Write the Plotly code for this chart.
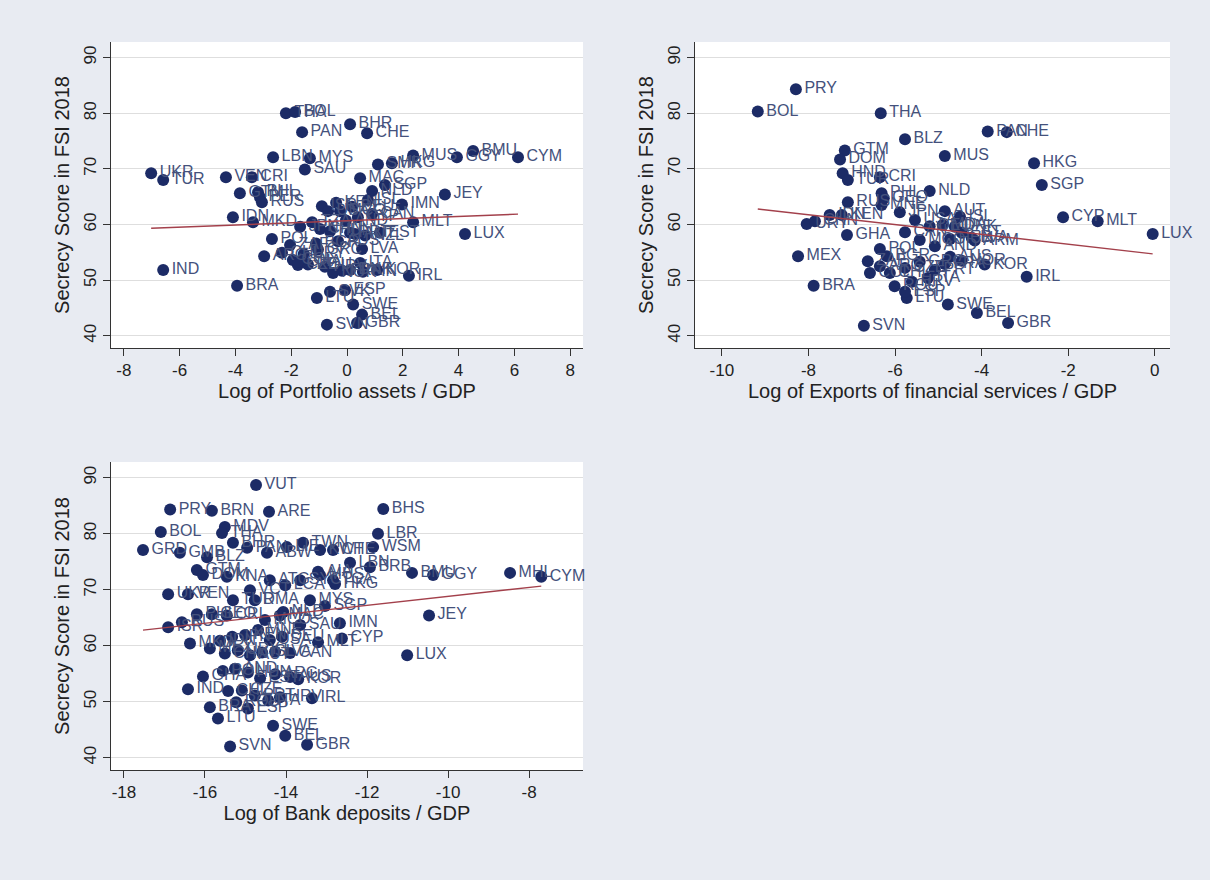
import numpy as np
import plotly.graph_objects as go

# ---------------- data ----------------
y_ticks = [40, 50, 60, 70, 80, 90]
y_ticktext = ["40", "50", "60", "70", "80", "90"]

p1_ticks = [-8, -6, -4, -2, 0, 2, 4, 6, 8]
p1_ticktext = ["-8", "-6", "-4", "-2", "0", "2", "4", "6", "8"]
p2_ticks = [-10, -8, -6, -4, -2, 0]
p2_ticktext = ["-10", "-8", "-6", "-4", "-2", "0"]
p3_ticks = [-18, -16, -14, -12, -10, -8]
p3_ticktext = ["-18", "-16", "-14", "-12", "-10", "-8"]

p1_labels = ["THA", "BOL", "PAN", "BHR", "CHE", "LBN", "MYS", "SAU", "UKR", "TUR", "VEN", "CRI",
             "GTM", "PHL", "PER", "RUS", "ISR", "MUS", "SMR", "HKG", "GGY", "BMU", "CYM", "MAC",
             "NLD", "SGP", "JEY", "IMN", "IDN", "MKD", "POL", "ARG", "CHL", "COL", "CZE", "IND",
             "BRA", "LTU", "SVK", "SVN", "NOR", "MLT", "LUX", "IRL", "KOR", "FIN", "DNK", "SWE",
             "BEL", "GBR", "CYP", "AUT", "LVA", "ESP",
             "JPN", "TZA", "CHN", "USA", "KEN", "MCO", "AND", "DEU", "ISL", "CAN", "HUN", "GRC",
             "AUS", "PRT", "NZL", "EST", "ROU", "HRV", "FRA", "ITA", "ZAF", "BGR", "URY", "GHA"]
p1_x = [-2.19, -1.86, -1.61, 0.11, 0.72, -2.65, -1.33, -1.51, -7.02, -6.59, -4.34, -3.41,
        -3.84, -3.19, -3.12, -3.05, -0.90, 2.37, 1.11, 1.61, 3.94, 4.52, 6.13, 0.47,
        0.90, 1.36, 3.51, 1.97, -4.09, -3.37, -2.69, -2.97, -2.33, -1.94, -1.76, -6.59,
        -3.94, -1.08, -0.61, -0.72, -0.50, 2.37, 4.23, 2.22, 1.08, 0.57, 0.11, 0.22,
        0.54, 0.36, 0.39, 0.29, 0.54, -0.07,
        -1.68, -1.25, -0.97, -0.68, -0.39, -0.25, -0.04, 0.18, 0.75, 0.90, -0.61, -1.04,
        -0.32, 0.11, 0.65, 1.18, -1.40, -0.79, -0.18, 0.47, -2.04, -1.11, -1.55, -1.75]
p1_y = [80.0, 80.2, 76.6, 78.0, 76.4, 72.1, 71.9, 69.9, 69.2, 68.0, 68.5, 68.5,
        65.6, 65.8, 64.9, 64.0, 63.3, 72.4, 70.8, 71.0, 72.1, 73.2, 72.1, 68.3,
        66.0, 67.1, 65.4, 63.6, 61.3, 60.4, 57.4, 54.3, 54.9, 53.6, 52.7, 51.8,
        49.0, 46.8, 47.9, 42.0, 51.3, 60.4, 58.3, 50.8, 51.8, 51.5, 51.8, 45.6,
        43.8, 42.3, 61.3, 58.3, 55.6, 48.2,
        59.6, 60.4, 59.2, 62.4, 63.9, 62.4, 60.7, 63.2, 64.4, 61.9, 58.8, 55.5,
        57.0, 58.5, 58.0, 58.5, 52.8, 52.4, 51.7, 53.1, 56.3, 56.6, 54.7, 53.3]

p2_labels = ["PRY", "BOL", "THA", "BLZ", "PAN", "CHE", "MUS", "HKG", "SGP", "GTM", "DOM", "HND",
             "TUR", "CRI", "PHL", "GEO", "NLD", "RUS", "MNE", "IDN", "KEN", "URY", "CHN", "GHA",
             "MEX", "BRA", "SVN", "LTU", "ESP", "CYP", "MLT", "LUX", "IRL", "SWE", "BEL", "GBR",
             "LVA", "MDA",
             "JPN", "USA", "DEU", "AUT", "ISL", "CAN", "MCO", "AND", "HUN", "EST", "ARM", "ARG",
             "COL", "CHL", "CZE", "GRC", "PRT", "AUS", "NOR", "KOR", "ROU", "HRV", "ITA", "FRA",
             "ZAF", "BGR", "DNK", "POL"]
p2_x = [-8.29, -9.17, -6.33, -5.77, -3.86, -3.42, -4.85, -2.79, -2.61, -7.16, -7.27, -7.21,
        -7.09, -6.35, -6.31, -6.26, -5.20, -7.09, -6.31, -7.51, -7.23, -8.04, -7.85, -7.11,
        -8.24, -7.88, -6.72, -5.73, -5.77, -2.12, -1.32, -0.05, -2.96, -4.78, -4.11, -3.39,
        -4.23, -4.90,
        -5.89, -5.54, -5.20, -4.85, -4.50, -5.77, -5.43, -5.08, -4.73, -4.46, -4.16, -6.35,
        -6.58, -6.12, -5.77, -5.43, -5.08, -4.73, -4.46, -3.93, -6.01, -5.61, -5.24, -4.85,
        -6.63, -6.19, -4.62, -6.35]
p2_y = [84.3, 80.3, 80.0, 75.3, 76.7, 76.6, 72.3, 71.0, 67.1, 73.3, 71.7, 69.2,
        68.0, 68.5, 65.6, 64.7, 66.0, 64.0, 63.5, 61.7, 61.7, 60.1, 60.6, 58.1,
        54.3, 49.0, 41.8, 46.8, 47.9, 61.3, 60.6, 58.3, 50.6, 45.6, 44.1, 42.3,
        57.6, 59.9,
        62.2, 60.8, 59.7, 62.4, 61.4, 58.6, 57.2, 56.1, 57.4, 58.5, 57.1, 52.5,
        51.3, 51.3, 52.2, 53.3, 51.8, 54.2, 53.5, 52.8, 48.9, 49.7, 50.4, 52.9,
        53.4, 54.3, 59.6, 55.6]

p3_labels = ["VUT", "PRY", "BRN", "ARE", "BHS", "BOL", "MDV", "THA", "LBR", "GRD", "GMB", "BLZ",
             "BHR", "PAN", "ABW", "LIE", "TWN", "KWT", "CHE", "WSM", "BRB", "BMU", "GGY", "MHL",
             "CYM", "GTM", "DOM", "KNA", "UKR", "VEN", "TUR", "PHL", "GEO", "CRI", "NLD", "SGP",
             "HKG", "MUS", "LBN", "IMN", "CYP", "MLT", "JEY", "LUX", "ISR", "RUS", "MKD", "GHA",
             "IND", "BRA", "LTU", "SVN", "SWE", "BEL", "GBR", "IRL",
             "IDN", "JPN", "KEN", "MNE", "USA", "DEU", "CHN", "URY", "AUT", "ISL", "LVA", "CAN",
             "POL", "AND", "HUN", "EST", "ARG", "AUS", "CHL", "CZE", "PRT", "ITA", "HRV", "KOR",
             "ROU", "ESP", "MEX", "MCO", "MAC", "SAU", "MYS", "DMA", "ATG", "LCA", "SYC", "VCT",
             "AIA", "TCA"]
p3_x = [-14.74, -16.86, -15.83, -14.42, -11.60, -17.09, -15.51, -15.58, -11.73, -17.53, -16.62, -15.95,
        -15.31, -14.96, -14.47, -13.98, -13.58, -13.16, -12.84, -11.85, -11.93, -10.89, -10.37, -8.47,
        -7.70, -16.20, -16.05, -15.46, -16.91, -16.42, -15.31, -16.20, -15.83, -15.46, -14.07, -13.04,
        -12.79, -13.16, -12.42, -12.67, -12.62, -13.21, -10.47, -11.01, -16.91, -16.57, -16.37, -16.05,
        -16.42, -15.88, -15.68, -15.38, -14.32, -14.02, -13.48, -13.36,
        -15.63, -15.33, -15.01, -14.69, -14.40, -14.10, -15.51, -15.19, -14.89, -14.59, -14.27, -13.90,
        -15.56, -15.26, -14.94, -14.64, -14.27, -13.90, -15.43, -15.09, -14.77, -14.44, -14.15, -13.70,
        -15.23, -14.94, -15.88, -14.52, -14.15, -13.65, -13.41, -14.77, -14.40, -14.02, -13.65, -14.89,
        -13.21, -12.84]
p3_y = [88.7, 84.3, 84.1, 83.9, 84.4, 80.3, 81.2, 80.1, 80.0, 77.1, 76.6, 75.8,
        78.4, 77.5, 76.6, 77.6, 78.4, 77.1, 77.1, 77.6, 74.0, 73.0, 72.6, 73.0,
        72.3, 73.5, 72.6, 72.3, 69.2, 69.2, 68.1, 65.6, 65.6, 65.4, 66.0, 67.1,
        71.0, 72.6, 74.8, 64.0, 61.3, 60.6, 65.4, 58.3, 63.3, 64.2, 60.4, 54.5,
        52.2, 49.0, 47.0, 42.0, 45.7, 43.9, 42.3, 50.6,
        60.9, 61.6, 61.9, 62.8, 61.0, 61.6, 58.6, 59.2, 58.3, 58.8, 58.9, 58.7,
        55.5, 55.9, 55.2, 54.2, 54.9, 54.4, 51.9, 52.0, 51.1, 50.2, 50.8, 54.0,
        49.9, 48.8, 59.5, 64.6, 65.4, 63.7, 68.1, 68.1, 71.7, 70.8, 71.7, 69.9,
        73.2, 71.7]

y_title = "Secrecy Score in FSI 2018"
p1_xtitle = "Log of Portfolio assets / GDP"
p2_xtitle = "Log of Exports of financial services / GDP"
p3_xtitle = "Log of Bank deposits / GDP"

# ---------------- style ----------------
BG = "#e8ebf2"
NAVY = "#1c2b66"
LABEL = "#44517c"
MAROON = "#a3404b"
FONT = "Liberation Sans, Arial, sans-serif"

fig = go.Figure()


def add_panel(labels, xs, ys, xa, ya):
    fig.add_trace(go.Scatter(
        x=xs, y=ys, mode="markers+text", text=labels, textposition="middle right",
        marker=dict(color=NAVY, size=12, line=dict(width=0)),
        textfont=dict(family=FONT, size=16, color=LABEL),
        cliponaxis=False, xaxis=xa, yaxis=ya, hoverinfo="skip"))
    slope, inter = np.polyfit(np.array(xs), np.array(ys), 1)
    xx = [min(xs), max(xs)]
    fig.add_trace(go.Scatter(
        x=xx, y=[inter + slope * v for v in xx], mode="lines",
        line=dict(color=MAROON, width=1.4), xaxis=xa, yaxis=ya, hoverinfo="skip"))


add_panel(p1_labels, p1_x, p1_y, "x", "y")
add_panel(p2_labels, p2_x, p2_y, "x2", "y2")
add_panel(p3_labels, p3_x, p3_y, "x3", "y3")

tickfont = dict(family=FONT, size=17, color="#222222")
titlefont = dict(family=FONT, size=20, color="#222222")


def xaxis(domain, anchor, rng, tv, tt, title):
    return dict(domain=domain, anchor=anchor, range=rng, tickvals=tv, ticktext=tt,
                showgrid=False, zeroline=False, showline=True, linecolor="#333333", linewidth=1,
                ticks="outside", ticklen=7, tickcolor="#333333", tickfont=tickfont,
                title=dict(text=title, font=titlefont, standoff=4), fixedrange=True)


def yaxis(domain, anchor):
    return dict(domain=domain, anchor=anchor, range=[37.8, 92.8], tickvals=y_ticks,
                ticktext=y_ticktext, tickangle=-90, showgrid=True, gridcolor="#dedede",
                gridwidth=1, zeroline=False, showline=True, linecolor="#333333", linewidth=1,
                ticks="outside", ticklen=7, tickcolor="#333333", tickfont=tickfont,
                title=dict(text=y_title, font=titlefont, standoff=6), fixedrange=True)


top_dom = [1 - 348 / 880, 1 - 42 / 880]
bot_dom = [1 - 770 / 880, 1 - 462 / 880]
left_dom = [111 / 1210, 583 / 1210]
right_dom = [695 / 1210, 1170 / 1210]

fig.update_layout(
    width=1210, height=880, margin=dict(l=0, r=0, t=0, b=0),
    paper_bgcolor=BG, plot_bgcolor="white", showlegend=False,
    font=dict(family=FONT),
    xaxis=xaxis(left_dom, "y", [-8.46, 8.46], p1_ticks, p1_ticktext, p1_xtitle),
    yaxis=yaxis(top_dom, "x"),
    xaxis2=xaxis(right_dom, "y2", [-10.62, 0.35], p2_ticks, p2_ticktext, p2_xtitle),
    yaxis2=yaxis(top_dom, "x2"),
    xaxis3=xaxis(left_dom, "y3", [-18.32, -6.67], p3_ticks, p3_ticktext, p3_xtitle),
    yaxis3=yaxis(bot_dom, "x3"),
)

fig.write_html("out.html")
